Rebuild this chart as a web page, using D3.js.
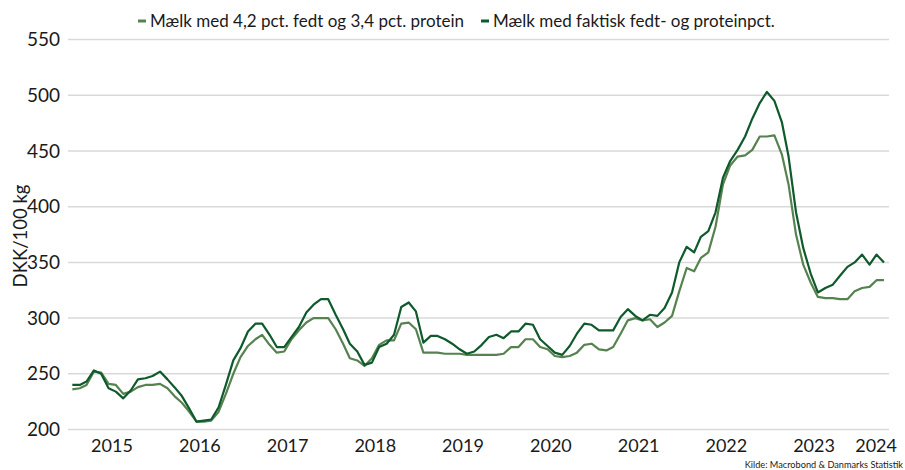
<!DOCTYPE html>
<html>
<head>
<meta charset="utf-8">
<script src="https://cdn.jsdelivr.net/npm/d3@7"></script>
<style>
  html, body { margin: 0; padding: 0; background: #ffffff; }
  svg { display: block; }
  text { font-family: Lato, "Open Sans", sans-serif; fill: #1a1a1a; }
</style>
</head>
<body>
<svg id="chart" width="905" height="470"></svg>
<script>
// ---- Data (monthly, Jan 2015 – Apr 2024), DKK per 100 kg ----
const startYear = 2015, startMonth = 0;
const seriesNames = ["Mælk med 4,2 pct. fedt og 3,4 pct. protein", "Mælk med faktisk fedt- og proteinpct."];
const standardMilk = [
  236,237,240,252,251,241,240,232,234,238,240,240,
  241,237,230,224,216,207,207,208,216,232,250,265,
  275,281,285,276,269,270,281,289,296,300,300,300,
  290,277,264,262,257,264,276,280,280,295,296,290,
  269,269,269,268,268,268,267,267,267,267,267,268,
  274,274,281,281,274,272,266,265,266,269,276,277,
  272,271,274,286,298,300,298,299,292,296,302,324,
  345,342,354,359,382,420,437,445,446,451,463,463,
  464,447,420,375,348,332,319,318,318,317,317,324,
  327,328,334,334
];
const actualMilk = [
  240,240,243,253,250,237,234,228,235,245,246,248,
  252,245,238,230,219,207,208,209,220,240,262,273,
  288,295,295,285,274,274,283,292,305,312,317,317,
  303,290,277,270,258,260,274,277,285,310,314,306,
  278,284,284,281,277,272,268,270,276,283,285,282,
  288,288,295,294,281,275,269,267,275,286,295,294,
  289,289,289,301,308,302,298,303,302,309,323,350,
  364,359,373,378,395,426,441,451,463,479,493,503,
  495,476,445,395,363,340,323,327,330,338,346,350,
  357,348,357,350
];
const yTicks = [200, 250, 300, 350, 400, 450, 500, 550];
const yearLabels = [2015, 2016, 2017, 2018, 2019, 2020, 2021, 2022, 2023, 2024];
const yTitle = "DKK/100 kg";
const sourceText = "Kilde: Macrobond & Danmarks Statistik";
const colors = ["#55824f", "#0e5a2c"];

// ---- Build dated rows ----
const dates = standardMilk.map((_, i) => new Date(startYear, startMonth + i, 1));
const series = [standardMilk, actualMilk].map((vals, k) => ({
  name: seriesNames[k], color: colors[k],
  values: vals.map((v, i) => ({ date: dates[i], value: v }))
}));

const svg = d3.select("#chart");
const plotLeft = 68, plotRight = 889;

const x = d3.scaleTime()
  .domain([new Date(2014, 11, 14), new Date(2024, 3, 22)])
  .range([plotLeft, plotRight]);
const y = d3.scaleLinear().domain([200, 550]).range([429.5, 39.6]);

// Gridlines
svg.append("g").selectAll("line").data(yTicks).join("line")
  .attr("x1", plotLeft).attr("x2", plotRight)
  .attr("y1", d => y(d)).attr("y2", d => y(d))
  .attr("stroke", "#d9d9d9").attr("stroke-width", 1.5);

// Y axis labels via d3 axis
const yAxis = d3.axisLeft(y).tickValues(yTicks).tickSize(0).tickPadding(0);
const gy = svg.append("g").attr("transform", `translate(60,0)`).call(yAxis);
gy.select(".domain").remove();
gy.selectAll("text").attr("font-size", 19).attr("fill", "#1a1a1a")
  .style("font-family", "Lato, sans-serif");

// Y title
svg.append("text")
  .attr("transform", `translate(27,236) rotate(-90)`)
  .attr("text-anchor", "middle")
  .attr("font-size", 18.5)
  .text(yTitle);

// X year labels (centered mid-year)
const gx = svg.append("g");
gx.selectAll("text").data(yearLabels).join("text")
  .attr("x", d => x(new Date(d, 5, 15)))
  .attr("y", 452)
  .attr("text-anchor", "middle")
  .attr("font-size", 18)
  .text(d => d)
  .each(function() {
    const w = this.getComputedTextLength();
    const cx = +d3.select(this).attr("x");
    if (cx + w / 2 > 897) d3.select(this).attr("x", 897 - w / 2);
  });

// Lines
const line = d3.line().x(d => x(d.date)).y(d => y(d.value));
svg.append("g").selectAll("path").data(series).join("path")
  .attr("d", d => line(d.values))
  .attr("fill", "none")
  .attr("stroke", d => d.color)
  .attr("stroke-width", 2.2)
  .attr("stroke-linejoin", "round");

// Legend
const legend = svg.append("g");
const lx = [138, 481];
series.forEach((s, i) => {
  legend.append("line")
    .attr("x1", lx[i]).attr("x2", lx[i] + 8)
    .attr("y1", 21).attr("y2", 21)
    .attr("stroke", s.color).attr("stroke-width", 3);
  legend.append("text")
    .attr("x", lx[i] + 12).attr("y", 27)
    .attr("font-size", 17)
    .text(s.name);
});

// Source
svg.append("text")
  .attr("x", 903).attr("y", 468)
  .attr("text-anchor", "end")
  .attr("font-size", 9.2)
  .attr("fill", "#333")
  .text(sourceText);
</script>
</body>
</html>
